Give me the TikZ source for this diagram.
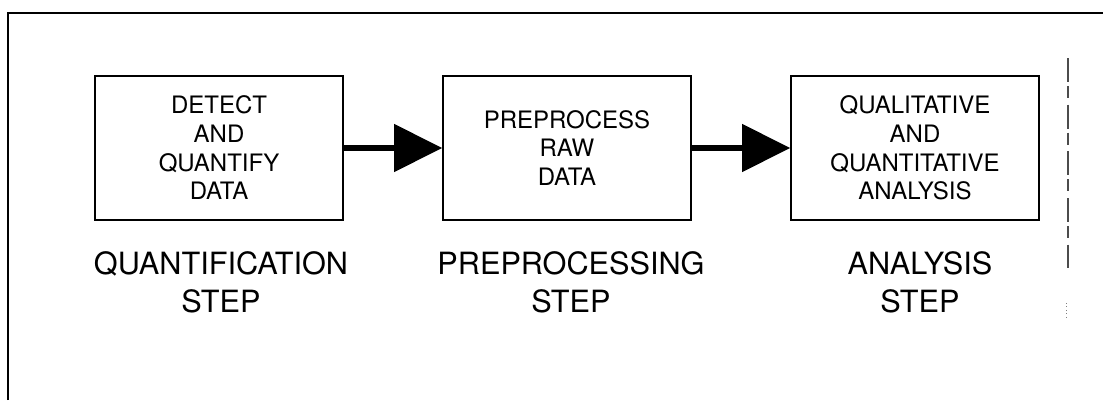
\documentclass[tikz,border=0pt]{standalone}
\usepackage{fontspec}
\setmainfont{TeX Gyre Heros}
\usetikzlibrary{arrows.meta}

\tikzset{
  stepbox/.style={draw, line width=1.2pt, minimum width=186pt, minimum height=108pt, inner sep=0pt, align=center, font=\fontsize{18}{21.5}\selectfont},
  steplabel/.style={align=center, inner sep=0.75pt, font=\fontsize{23}{28.5}\selectfont},
  flow/.style={line width=4.3pt, -{Triangle[length=36pt,width=35pt]}}
}

\begin{document}
\begin{tikzpicture}[x=0.75pt,y=0.75pt,yscale=-1,xscale=1]
\useasboundingbox (0,0) rectangle (1103,400);

%Straight Lines: frame
\draw[line width=1.8pt] (8,400) -- (8,13) -- (1103,13) ;
%Straight Lines: faint right edge
\draw[line width=0.8pt, black!70, dash pattern=on 18pt off 3pt on 9pt off 5pt] (1068,58) -- (1068,268) ;
\draw[line width=0.6pt, black!50, dotted] (1066,303) -- (1066,320) ;

%Shape: Rectangle
\node[stepbox] (detect) at (219,148) {DETECT\\AND\\QUANTIFY\\DATA};
%Shape: Rectangle
\node[stepbox] (preproc) at (567,148) {PREPROCESS\\RAW\\DATA};
%Shape: Rectangle
\node[stepbox] (analyse) at (915,148) {QUALITATIVE\\AND\\QUANTITATIVE\\ANALYSIS};

%Straight Lines: arrows
\draw[flow] (detect) -- (preproc) ;
\draw[flow] (preproc) -- (analyse) ;

% Text Node
\node[steplabel] (quantstep) at (221,282) {QUANTIFICATION\\STEP};
% Text Node
\node[steplabel] (prepstep) at (571,282) {PREPROCESSING\\STEP};
% Text Node
\node[steplabel] (anastep) at (920,282) {ANALYSIS\\STEP};

\end{tikzpicture}
\end{document}
